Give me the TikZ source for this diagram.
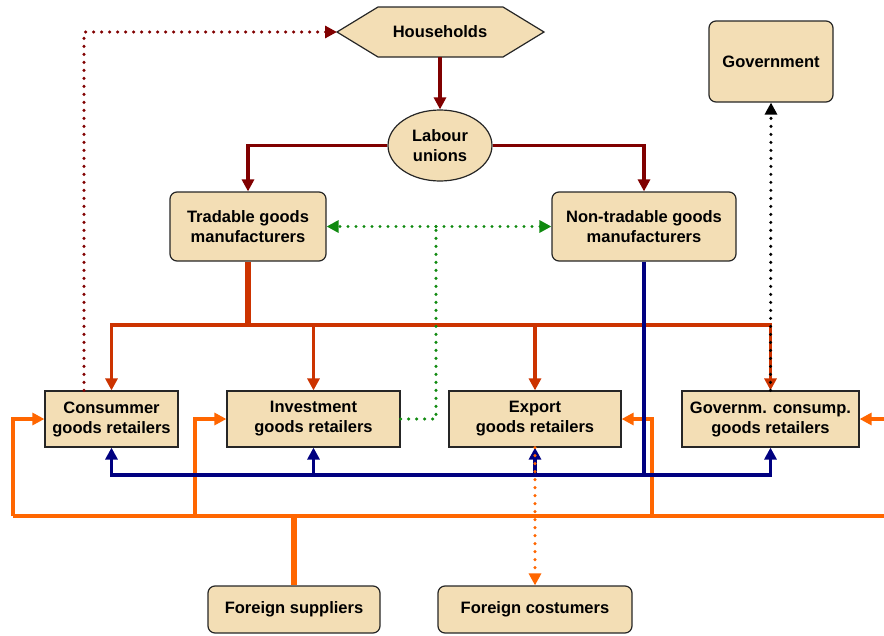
\documentclass[tikz,border=0pt]{standalone}
\usepackage{fontspec}
\setmainfont{Liberation Sans}
\usetikzlibrary{arrows.meta,shapes.geometric}
\definecolor{boxfill}{HTML}{F3DEB5}
\definecolor{dred}{HTML}{800000}
\definecolor{rorange}{HTML}{CC3300}
\definecolor{navyb}{HTML}{000080}
\definecolor{orng}{HTML}{FF6600}
\definecolor{grn}{HTML}{108A10}
\tikzset{
  boxbase/.style={draw=black!85, fill=boxfill, line width=1.2pt, align=center, inner sep=0pt,
    font=\bfseries\fontsize{16.5}{20}\selectfont},
  rbox/.style={boxbase, rounded corners=7pt},
  sbox/.style={boxbase},
  tip/.style={-{Triangle[length=12pt,width=12pt]}},
  dredline/.style={dred, line width=3.6pt, tip},
  roline/.style={rorange, line width=3.6pt, tip},
  blline/.style={navyb, line width=3.6pt, tip},
  orline/.style={orng, line width=3.6pt, tip},
  dotline/.style={line width=3.4pt, line cap=round, dash pattern=on 0pt off 8pt},
}
\begin{document}
\begin{tikzpicture}[x=1pt,y=-1pt]
\useasboundingbox (0,0) rectangle (884,635);
% Households
\coordinate (hhL) at (337,32);
\coordinate (hhB) at (440,57);
\filldraw[draw=black!85, fill=boxfill, line width=1.2pt] (hhL) -- (378,7) -- (503,7) -- (544,32) -- (503,57) -- (378,57) -- cycle;
\node[font=\bfseries\fontsize{16.5}{20}\selectfont] (hh) at (440,32) {Households};
% nodes
\node[boxbase, ellipse, minimum width=104pt, minimum height=71pt] (lab) at (440,145.5) {Labour\\unions};
\node[rbox, minimum width=156pt, minimum height=69pt] (trad) at (248,226.5) {Tradable goods\\manufacturers};
\node[rbox, minimum width=184pt, minimum height=69pt] (nontrad) at (644,226.5) {Non-tradable goods\\manufacturers};
\node[rbox, minimum width=124pt, minimum height=81pt] (gov) at (771,61.5) {Government};
\node[sbox, minimum width=133pt, minimum height=56pt] (cons) at (111.5,419) {Consummer\\goods retailers};
\node[sbox, minimum width=173pt, minimum height=56pt] (inv) at (313.5,419) {Investment\\goods retailers};
\node[sbox, minimum width=172pt, minimum height=56pt] (exp) at (535,419) {Export\\goods retailers};
\node[sbox, minimum width=177pt, minimum height=56pt] (gcr) at (770.5,419) {Governm. consump.\\goods retailers};
\node[rbox, minimum width=172pt, minimum height=47pt] (fs) at (294,609.5) {Foreign suppliers};
\node[rbox, minimum width=194pt, minimum height=47pt] (fc) at (535,609.5) {Foreign costumers};
% households -> unions -> manufacturers
\draw[dredline] (hhB) -- (lab.north);
\draw[dredline] (lab.west) -| (trad.north);
\draw[dredline] (lab.east) -| (nontrad.north);
% orange supply lines
\coordinate (oL) at (13,516);
\coordinate (oR) at (886,516);
\coordinate (oE) at (886,419);
\draw[orng, line width=3.6pt] (oL) -- (oR);
\draw[orng, line width=5.5pt] (fs.north) -- (fs.north |- oL);
\draw[orline] (oL) |- (cons.west);
\draw[orline] (195,516) |- (inv.west);
\draw[orline] (652,516) |- (exp.east);
\draw[orline] (oE) -- (gcr.east);
% tradable tree
\coordinate (tj) at (248,325);
\draw[rorange, line width=5.5pt] (trad.south) -- (tj);
\draw[roline] (tj) -| (cons.north);
\draw[roline] (tj) -| (inv.north);
\draw[roline] (tj) -| (exp.north);
\draw[roline] (tj) -| (gcr.north);
% non-tradable tree
\coordinate (bj) at (644,475);
\draw[navyb, line width=3.6pt] (nontrad.south) -- (bj);
\draw[blline] (bj) -| (cons.south);
\draw[blline] (bj) -| (inv.south);
\draw[blline] (bj) -| (exp.south);
\draw[blline] (bj) -| (gcr.south);
% dotted links
\coordinate (gj) at (436,226.5);
\draw[dotline, grn] (inv.east) -| (gj);
\draw[dotline, grn, tip] (gj) -- (trad.east);
\draw[dotline, grn, tip] (gj) -- (nontrad.west);
\draw[dotline, black, tip] (gcr.north) -- (gov.south);
\draw[dotline, dred, tip] (cons.north) ++(-27.5,0) |- (hhL);
\draw[dotline, orng, tip] (exp.south) -- (fc.north);
\end{tikzpicture}
\end{document}
